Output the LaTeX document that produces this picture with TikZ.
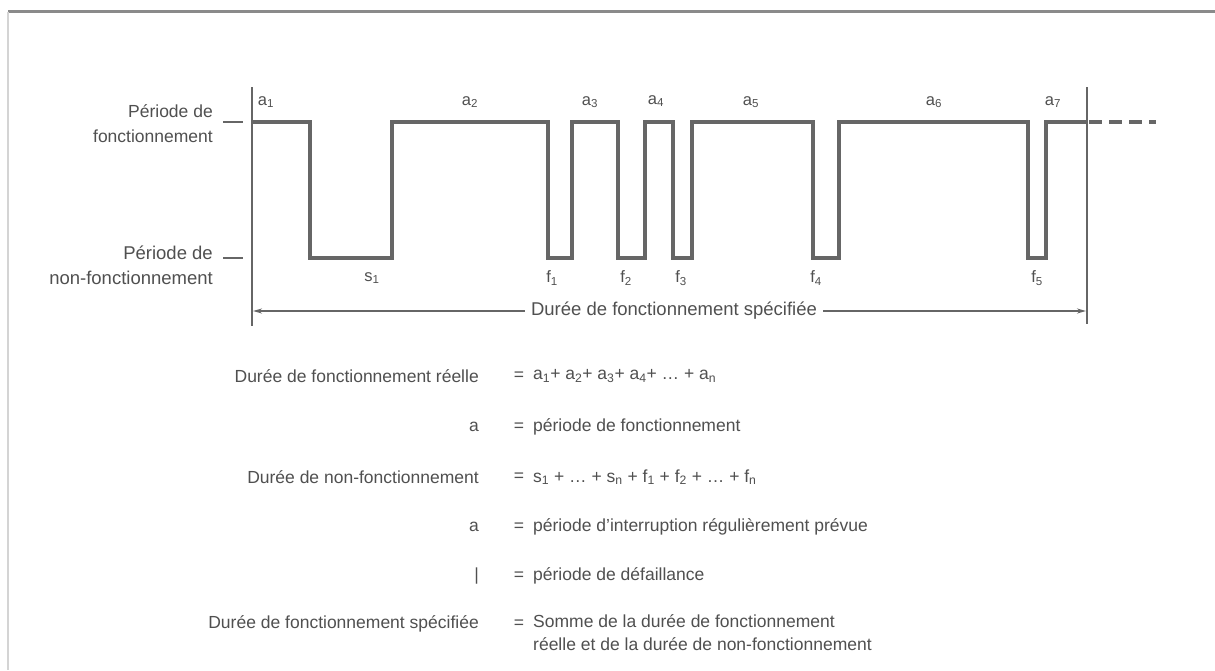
\documentclass[tikz,border=0pt]{standalone}
\usepackage{fontspec}
\setmainfont{Liberation Sans}
\usetikzlibrary{arrows.meta}
\definecolor{wave}{HTML}{666666}
\definecolor{txt}{HTML}{505050}
\definecolor{frameline}{HTML}{8A8A8A}
\definecolor{frameside}{HTML}{D4D4D4}
\begin{document}
\begin{tikzpicture}[x=1pt,y=-1pt,
  wavestyle/.style={draw=wave,line width=3.2pt,line join=miter},
  axisline/.style={draw=wave,line width=1.1pt},
  ticklbl/.style={text=txt,font=\fontsize{17.5}{25}\selectfont,inner sep=0pt,align=right,anchor=east},
  sublbl/.style={text=txt,font=\fontsize{16.5}{18}\selectfont,inner sep=0pt},
  arrlbl/.style={text=txt,font=\fontsize{18.5}{20}\selectfont,inner sep=0pt},
  listlbl/.style={text=txt,font=\fontsize{17.5}{23}\selectfont,inner sep=0pt},
  arrowline/.style={draw=wave,line width=1.6pt,-{Stealth[length=9pt,width=5pt]}}
]
\useasboundingbox[fill=white] (0,0) rectangle (1215,670);
% frame
\draw[frameline,line width=3pt] (8,11) -- (1215,11);
\draw[frameside,line width=2pt] (8,12) -- (8,670);

% axes
\coordinate (axL top) at (252,87);
\coordinate (axL bot) at (252,326);
\coordinate (axR top) at (1087,87);
\coordinate (axR bot) at (1087,324);
\draw[axisline] (axL top) -- (axL bot);
\draw[axisline] (axR top) -- (axR bot);
\draw[axisline] (223,122) -- (243,122);
\draw[axisline] (223,258) -- (243,258);

% level labels
\node[ticklbl] (lvlhi) at (213,124) {Période de\\fonctionnement};
\node[ticklbl,font=\fontsize{18.5}{25}\selectfont] (lvllo) at (213,265) {Période de\\non-fonctionnement};

% waveform
\draw[wavestyle]
  (252,122) -- (310,122) -- (310,258) -- (392,258) -- (392,122)
  -- (548,122) -- (548,258) -- (572,258) -- (572,122)
  -- (618,122) -- (618,258) -- (645,258) -- (645,122)
  -- (673,122) -- (673,258) -- (692,258) -- (692,122)
  -- (813,122) -- (813,258) -- (839,258) -- (839,122)
  -- (1028,122) -- (1028,258) -- (1046,258) -- (1046,122)
  -- (1087,122);
\draw[wavestyle,dash pattern=on 13pt off 7pt] (1089,122) -- (1156,122);

% wave labels
\node[sublbl] (a1) at (266,102) {a\textsubscript{1}};
\node[sublbl] (a2) at (470,102) {a\textsubscript{2}};
\node[sublbl] (a3) at (590,102) {a\textsubscript{3}};
\node[sublbl] (a4) at (656,101) {a\textsubscript{4}};
\node[sublbl] (a5) at (751,102) {a\textsubscript{5}};
\node[sublbl] (a6) at (934,102) {a\textsubscript{6}};
\node[sublbl] (a7) at (1053,102) {a\textsubscript{7}};
\node[sublbl] (s1) at (372,278) {s\textsubscript{1}};
\node[sublbl] (f1) at (552,278) {f\textsubscript{1}};
\node[sublbl] (f2) at (626,278) {f\textsubscript{2}};
\node[sublbl] (f3) at (681,278) {f\textsubscript{3}};
\node[sublbl] (f4) at (816,278) {f\textsubscript{4}};
\node[sublbl] (f5) at (1037,278) {f\textsubscript{5}};

% specified duration arrow
\coordinate (arrL) at (253,311);
\coordinate (arrR) at (1086,311);
\node[arrlbl,inner xsep=6pt] (arrtxt) at (674,311) {Durée de fonctionnement spécifiée};
\draw[arrowline] (arrtxt.west) -- (arrL);
\draw[arrowline] (arrtxt.east) -- (arrR);

% legend list
\node[listlbl,anchor=east] (l1) at (479,376) {Durée de fonctionnement réelle};
\node[listlbl] (e1) at (519,376) {=};
\node[listlbl,anchor=west] (r1) at (533,376) {a\textsubscript{1}+ a\textsubscript{2}+ a\textsubscript{3}+ a\textsubscript{4}+ \dots\ + a\textsubscript{n}};

\node[listlbl,anchor=east] (l2) at (479,427) {a};
\node[listlbl] (e2) at (519,427) {=};
\node[listlbl,anchor=west] (r2) at (533,427) {période de fonctionnement};

\node[listlbl,anchor=east] (l3) at (479,477) {Durée de non-fonctionnement};
\node[listlbl] (e3) at (519,477) {=};
\node[listlbl,anchor=west] (r3) at (533,477) {s\textsubscript{1} + \dots\ + s\textsubscript{n} + f\textsubscript{1} + f\textsubscript{2} + \dots\ + f\textsubscript{n}};

\node[listlbl,anchor=east] (l4) at (479,527) {a};
\node[listlbl] (e4) at (519,527) {=};
\node[listlbl,anchor=west] (r4) at (533,527) {période d’interruption régulièrement prévue};

\node[listlbl,anchor=east] (l5) at (479,576) {|};
\node[listlbl] (e5) at (519,576) {=};
\node[listlbl,anchor=west] (r5) at (533,576) {période de défaillance};

\node[listlbl,anchor=east] (l6) at (479,624) {Durée de fonctionnement spécifiée};
\node[listlbl] (e6) at (519,624) {=};
\node[listlbl,anchor=north west,align=left] (r6) at (533,614) {Somme de la durée de fonctionnement\\réelle et de la durée de non-fonctionnement};
\end{tikzpicture}
\end{document}
